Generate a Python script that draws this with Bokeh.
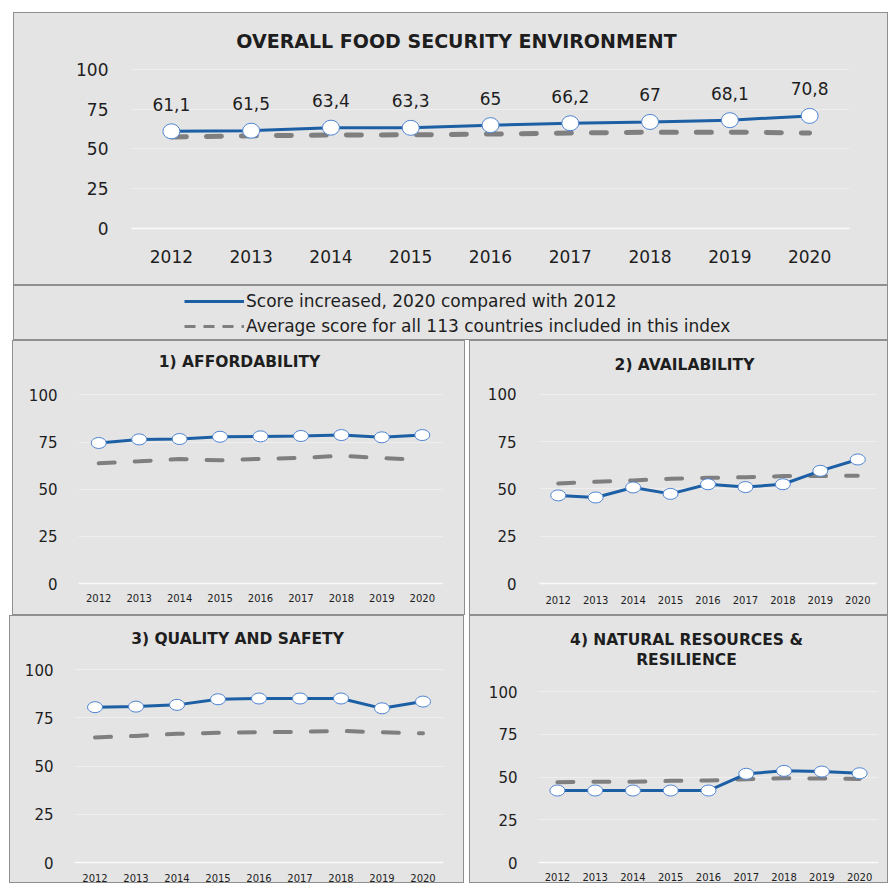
from bokeh.plotting import figure
from bokeh.models import ColumnDataSource, FactorRange, Range1d, Label, LabelSet, Legend, LegendItem
from bokeh.layouts import column, row
from bokeh.embed import file_html
from bokeh.resources import INLINE
from bokeh.core.properties import value

# ---------------- data ----------------
years = ["2012", "2013", "2014", "2015", "2016", "2017", "2018", "2019", "2020"]
y_ticks = [0, 25, 50, 75, 100]

overall_score = [61.1, 61.5, 63.4, 63.3, 65.0, 66.2, 67.0, 68.1, 70.8]
overall_avg = [57.5, 58.3, 58.8, 58.9, 59.4, 60.0, 60.6, 60.6, 60.0]

afford_score = [74.5, 76.4, 76.6, 77.8, 78.0, 78.2, 78.7, 77.5, 78.7]
afford_avg = [63.7, 64.8, 66.0, 65.3, 66.1, 66.6, 67.7, 66.5, 65.6]

avail_score = [46.6, 45.5, 50.8, 47.4, 52.5, 51.0, 52.5, 59.6, 65.6]
avail_avg = [52.9, 53.8, 54.5, 55.4, 55.9, 56.2, 56.8, 56.8, 57.0]

quality_score = [80.5, 80.8, 81.7, 84.6, 85.0, 85.0, 85.0, 79.9, 83.4]
quality_avg = [64.8, 65.6, 66.7, 67.2, 67.5, 67.7, 68.2, 67.5, 67.0]

natural_score = [42.1, 42.1, 42.1, 42.1, 42.1, 51.9, 53.6, 53.2, 52.2]
natural_avg = [47.0, 47.2, 47.2, 47.8, 48.0, 48.7, 49.3, 49.1, 48.9]

main_title = "OVERALL FOOD SECURITY ENVIRONMENT"
legend_labels = ["Score increased, 2020 compared with 2012",
                 "Average score for all 113 countries included in this index"]
sub_titles = [["1) AFFORDABILITY"], ["2) AVAILABILITY"], ["3) QUALITY AND SAFETY"],
              ["4) NATURAL RESOURCES &", "RESILIENCE"]]

# ---------------- style ----------------
BG = "#e4e4e4"
GRID = "#efefef"
BLUE = "#1c5fa5"
GRAY = "#7f7f7f"
MARK = "#4f84d2"
FONT = "DejaVu Sans"
TXT = "#1e1e1e"
PANEL_CSS = {"border": "1px solid #8f8f8f", "box-sizing": "border-box",
             "background-color": BG}


def panel(score, avg, w, h, mb, margin, y_end, title_lines, title_pos, title_size,
          ytick_size, xtick_size, ystand, xstand, dash, line_w, dash_w, mk):
    # the frame reaches the top of the panel (y_end > 100) so the panel title sits inside it
    p = figure(width=w, height=h, x_range=FactorRange(*years, range_padding=0),
               y_range=Range1d(0, y_end), output_backend="svg", toolbar_location=None,
               title=None,
               min_border_left=mb[0], min_border_right=mb[1], min_border_top=0,
               min_border_bottom=mb[2], background_fill_color=None,
               border_fill_color=None, outline_line_color=None)
    p.margin = margin
    p.styles = PANEL_CSS
    p.yaxis.ticker = y_ticks
    p.xgrid.visible = False
    p.ygrid.grid_line_color = GRID
    p.ygrid.grid_line_width = 1
    for ax in (p.xaxis[0], p.yaxis[0]):
        ax.major_tick_line_color = None
        ax.minor_tick_line_color = None
        ax.major_label_text_font = FONT
        ax.major_label_text_color = TXT
    p.yaxis.axis_line_color = None
    p.xaxis.axis_line_color = "#fafafa"
    p.xaxis.axis_line_width = 1.5
    p.yaxis.major_label_text_font_size = ytick_size
    p.xaxis.major_label_text_font_size = xtick_size
    p.yaxis.major_label_standoff = ystand
    p.xaxis.major_label_standoff = xstand

    src = ColumnDataSource(dict(x=years, s=score, a=avg))
    p.line("x", "a", source=src, line_color=GRAY, line_width=dash_w,
           line_dash=dash, line_cap="round")
    p.line("x", "s", source=src, line_color=BLUE, line_width=line_w)
    p.ellipse("x", "s", source=src, width=mk[0], height=mk[1],
              width_units="screen", height_units="screen",
              fill_color="white", line_color=MARK, line_width=1)

    for i, t in enumerate(title_lines):
        p.add_layout(Label(x=title_pos[0], y=title_pos[1] - i * 20, x_units="screen",
                           y_units="screen", text=t, text_align="center",
                           text_baseline="middle", text_font=FONT,
                           text_font_style="bold", text_font_size=title_size,
                           text_color=TXT))
    return p, src


# top chart
top, top_src = panel(overall_score, overall_avg, 875, 273, (117, 40, 58), (12, 0, 0, 13),
                     135.2, [main_title], (325, 188), "19px", "17px", "17px", 17, 15,
                     "15 20", 3, 5, (17, 15))
top_src.data["lbl"] = [f"{v:g}".replace(".", ",") for v in overall_score]
top.add_layout(LabelSet(x="x", y="s", text="lbl", source=top_src, y_offset=27,
                        text_align="center", text_baseline="middle",
                        text_font=value(FONT), text_font_size=value("17px"),
                        text_color=TXT))

# legend panel
leg = figure(width=875, height=55, x_range=Range1d(0, 1), y_range=Range1d(0, 1),
             x_axis_type=None, y_axis_type=None, output_backend="svg", title=None,
             toolbar_location=None, min_border_left=117, min_border_right=40,
             min_border_top=0, min_border_bottom=0, background_fill_color=None,
             border_fill_color=None, outline_line_color=None)
leg.margin = (0, 0, 0, 13)
leg.styles = PANEL_CSS
hidden = ColumnDataSource(dict(x=[5, 6], y=[5, 6]))
r1 = leg.line("x", "y", source=hidden, line_color=BLUE, line_width=3)
r2 = leg.line("x", "y", source=hidden, line_color=GRAY, line_width=3, line_dash="11 8")
legend = Legend(items=[LegendItem(label=legend_labels[0], renderers=[r1]),
                       LegendItem(label=legend_labels[1], renderers=[r2])],
                location=(53, 5), glyph_width=60, glyph_height=20, label_height=20,
                label_standoff=2, spacing=5, padding=0, margin=0,
                background_fill_alpha=0, border_line_alpha=0,
                label_text_font=FONT, label_text_font_size="17px", label_text_color=TXT)
leg.add_layout(legend)

a, _ = panel(afford_score, afford_avg, 453, 275, (65, 24, 30), (0, 0, 0, 12), 128.3,
             sub_titles[0], (161, 222), "15.5px", "15px", "10px", 15, 4,
             "16 20", 3, 4, (15, 11))
b, _ = panel(avail_score, avail_avg, 419, 275, (69, 13, 33), (0, 0, 0, 4), 128.0,
             sub_titles[1], (145, 219), "15.5px", "15px", "10px", 17, 6,
             "16 20", 3, 4, (15, 11))
c, _ = panel(quality_score, quality_avg, 455, 268, (64, 22, 22), (0, 0, 0, 9), 127.5,
             sub_titles[2], (163, 224), "15.5px", "15px", "10px", 15, 5,
             "16 20", 3, 4, (15, 11))
d, _ = panel(natural_score, natural_avg, 419, 268, (68, 11, 22), (0, 0, 0, 5), 143.9,
             sub_titles[3], (148, 223), "15.5px", "15px", "10px", 15, 4,
             "16 20", 3, 4, (15, 11))

layout = column(top, leg, row(a, b), row(c, d))
open("out.html", "w").write(file_html(layout, INLINE))
